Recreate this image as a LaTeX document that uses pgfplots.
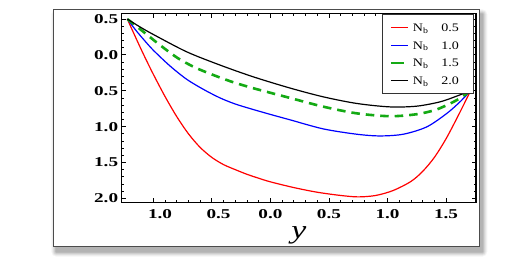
\documentclass[border=0pt]{standalone}
\usepackage{fontspec}
\setmainfont{Liberation Serif}
\usepackage{graphicx}
\usepackage{xcolor}
\usepackage{pgfplots}
\pgfplotsset{compat=1.18}
\definecolor{mgreen}{RGB}{20,170,20}
\definecolor{mred}{RGB}{255,0,0}
\definecolor{mblue}{RGB}{0,0,255}
\newcommand\tkl[1]{\scalebox{1.42}[1]{\bfseries #1}}
\newcommand\lgs[1]{\scalebox{1.22}[1]{#1}}
\newcommand\lrow[5]{\rule[-4.9pt]{0pt}{17.6pt}\makebox[22pt][l]{\textcolor{#1}{\rule[#2]{#4}{#3}}}\makebox[28.4pt][l]{\lgs{N\textsubscript{b}}}\lgs{#5}\hspace*{5pt}}
\begin{document}
\begin{tikzpicture}
\fill[white] (-121.7pt,-68.3pt) rectangle (410.3pt,202.7pt);
\path[use as bounding box] (-121.7pt,-68.3pt) rectangle (410.3pt,202.7pt);
\foreach \i/\o in {5/0.04,4/0.05,3/0.06,2/0.08,1/0.10}{
  \fill[black,opacity=\o,rounded corners=\i pt] (-65.4pt-\i pt,-49pt-\i pt) rectangle (360.6pt+\i pt,188.4pt+\i pt);
}
\draw[black!70, line width=1.2pt, fill=white] (-68.4pt,-44pt) rectangle (357.6pt,193.4pt);
\begin{axis}[
  scale only axis, width=354.3pt, height=189.4pt,
  at={(0pt,0pt)}, anchor=south west,
  xmin=-1.270, xmax=1.756, ymin=-2.061, ymax=0.580,
  xtick={-1,-0.5,0,0.5,1,1.5},
  xticklabels={\hspace*{13.4pt}\tkl{1.0},\hspace*{13.4pt}\tkl{0.5},\tkl{0.0},\tkl{0.5},\tkl{1.0},\tkl{1.5}},
  ytick={-2,-1.5,-1,-0.5,0,0.5},
  yticklabels={\tkl{2.0},\tkl{1.5},\tkl{1.0},\tkl{0.5},\tkl{0.0},\tkl{0.5}},
  minor x tick num=4, minor y tick num=4,
  tick align=inside,
  major tick length=4.5pt, minor tick length=2.5pt,
  tick style={black, line width=0.8pt},
  axis line style={black, line width=1.3pt},
  tick label style={font=\fontsize{13.5}{15}\selectfont},
  xticklabel style={anchor=center, yshift=-11.5pt},
  yticklabel style={anchor=east, inner xsep=0pt, xshift=-3.4pt},
  xlabel={\scalebox{1.3}[1]{\itshape y}},
  xlabel style={at={(axis description cs:0.5,-0.1705)}, anchor=center, font=\fontsize{26}{28}\selectfont},
]
\addplot[draw=mred, line width=1.2pt, smooth] coordinates {
(-1.222,0.5)(-1.15,0.24)(-1.08,-0.005)(-1.0,-0.27)(-0.9,-0.58)(-0.8,-0.86)(-0.7,-1.1)(-0.6,-1.29)(-0.5,-1.43)(-0.4,-1.53)(-0.3,-1.60)(-0.2,-1.665)(-0.1,-1.72)(0.0,-1.77)(0.2,-1.85)(0.4,-1.915)(0.6,-1.96)(0.75,-1.98)(0.9,-1.96)(1.05,-1.89)(1.2,-1.765)(1.3,-1.625)(1.4,-1.43)(1.5,-1.17)(1.6,-0.86)(1.71,-0.5)};
\addplot[draw=mblue, line width=1.2pt, smooth] coordinates {
(-1.222,0.5)(-1.15,0.345)(-1.08,0.21)(-1.0,0.065)(-0.857,-0.155)(-0.715,-0.34)(-0.573,-0.48)(-0.43,-0.6)(-0.3,-0.685)(-0.15,-0.76)(0.0,-0.83)(0.167,-0.905)(0.452,-1.032)(0.737,-1.106)(0.936,-1.13)(1.135,-1.106)(1.335,-1.004)(1.506,-0.817)(1.619,-0.655)(1.71,-0.5)};
\addplot[draw=mgreen, line width=2.6pt, dash pattern=on 8.5pt off 6pt, smooth] coordinates {
(-1.222,0.5)(-1.085,0.323)(-0.943,0.137)(-0.787,-0.049)(-0.644,-0.175)(-0.501,-0.272)(-0.345,-0.366)(-0.174,-0.452)(-0.003,-0.527)(0.167,-0.6)(0.452,-0.722)(0.737,-0.815)(1.021,-0.855)(1.249,-0.827)(1.42,-0.761)(1.591,-0.631)(1.71,-0.5)};
\addplot[draw=black, line width=1.2pt, smooth] coordinates {
(-1.222,0.5)(-1.114,0.39)(-1.0,0.285)(-0.715,0.043)(-0.43,-0.142)(-0.146,-0.306)(0.167,-0.462)(0.452,-0.585)(0.737,-0.677)(1.021,-0.725)(1.249,-0.715)(1.448,-0.655)(1.591,-0.575)(1.71,-0.5)};
\node[draw=black!80, line width=0.8pt, fill=white, anchor=north east, inner xsep=9pt, inner ysep=4.45pt,
  font=\fontsize{11.5}{13}\selectfont] at (rel axis cs:0.9924,0.9963) {%
  \begin{tabular}{@{}l@{}}
  \lrow{mred}{3.3pt}{1.3pt}{17pt}{0.5}\\
  \lrow{mblue}{3.3pt}{1.3pt}{17pt}{1.0}\\
  \lrow{mgreen}{2.6pt}{2.6pt}{13pt}{1.5}\\
  \lrow{black}{3.3pt}{1.3pt}{17pt}{2.0}
  \end{tabular}};
\end{axis}
\end{tikzpicture}
\end{document}
